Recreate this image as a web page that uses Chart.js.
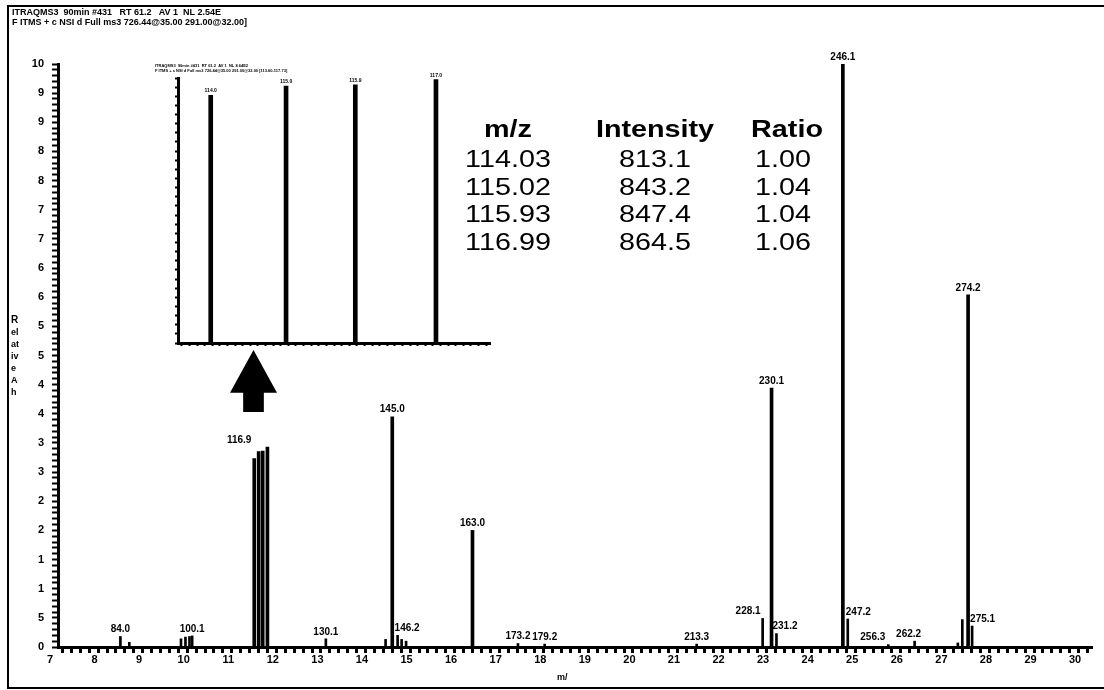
<!DOCTYPE html>
<html>
<head>
<title>ITRAQMS3 spectrum</title>
<script src="https://cdn.jsdelivr.net/npm/chart.js@4.4.0/dist/chart.umd.min.js"></script>
<style>
body { margin:0; background:#fff; font-family:"Liberation Sans", Arial, sans-serif; color:#000; }
#wrap { position:relative; width:1104px; height:690px; overflow:hidden; }
#frame { position:absolute; left:7px; top:5px; width:1096px; height:680px; border:2px solid #000; border-right:none; }
#main { position:absolute; left:0; top:0; }
#inset { position:absolute; left:150px; top:55px; }
.hdr { position:absolute; left:12px; top:7px; font-size:9px; font-weight:bold; line-height:10px; white-space:nowrap; }
.ytitle { position:absolute; left:11px; top:314px; font-size:9px; font-weight:bold; line-height:12px; }
.xtitle { position:absolute; left:557px; top:672px; font-size:9px; font-weight:bold; }
.cell { position:absolute; font-size:23px; white-space:nowrap; transform:translate(-50%,-50%) scaleX(1.25); }
.cell.b { font-weight:bold; }
#arrow { position:absolute; left:230px; top:350px; width:47px; height:62px; background:#000;
  clip-path:polygon(50% 0, 100% 69%, 72% 69%, 72% 100%, 28% 100%, 28% 69%, 0 69%); }
</style>
</head>
<body>
<div id="wrap">
<canvas id="main" width="1104" height="690"></canvas>
<canvas id="inset" width="350" height="305"></canvas>
<div id="frame"></div>
<div class="hdr">ITRAQMS3&nbsp; 90min #431&nbsp;&nbsp; RT 61.2&nbsp;&nbsp; AV 1&nbsp; NL 2.54E<br>F ITMS + c NSI d Full ms3 726.44@35.00 291.00@32.00]</div>
<div class="ytitle"><span style="font-size:10px">R</span><br>el<br>at<br>iv<br>e<br>A<br>h</div>
<div class="xtitle">m/</div>
<div id="arrow"></div>
<div id="table"></div>
</div>
<script>
// main spectrum (m/z, relative abundance %)
var mz =        [84.0, 86.0, 97.6, 98.6, 99.5, 100.1, 114.03, 115.02, 115.93, 116.99, 130.1, 143.5, 145.0, 146.2, 147.1, 148.1, 163.0, 173.2, 179.2, 213.3, 228.1, 230.1, 231.2, 246.1, 247.2, 256.3, 262.2, 271.9, 272.9, 274.2, 275.1];
var abundance = [1.8,  0.8,  1.4,  1.7,  1.8,  1.9,   32.3,   33.5,   33.6,   34.3,   1.4,   1.3,   39.5,  2.0,   1.3,   1.0,   20.0,  0.6,   0.5,   0.5,   4.9,   44.4,  2.3,   100,   4.8,   0.4,   1.0,   0.7,   4.7,   60.4,  3.6];
var peakTags =  ['84.0','', '',  '',   '',   '100.1','',    '',     '',     '116.9','130.1','',  '145.0','146.2','',   '',    '163.0','173.2','179.2','213.3','228.1','230.1','231.2','246.1','247.2','256.3','262.2','', '',  '274.2','275.1'];

var xTickLabels = ['7','8','9','10','11','12','13','14','15','16','17','18','19','20','21','22','23','24','25','26','27','28','29','30'];
var yTickLabels = ['0','5','1','1','2','2','3','3','4','4','5','5','6','6','7','7','8','8','9','9','10'];

// iTRAQ reporter inset + table
var insetMz = [114.03, 115.02, 115.93, 116.99];
var insetIntensity = [813.1, 843.2, 847.4, 864.5];
var insetRatio = ['1.00', '1.04', '1.04', '1.06'];

// table
var tbl = document.getElementById('table');
var colX = [508, 655, 787];
var rowY = [129, 159, 187, 214, 242];
function cell(txt, x, y, bold) {
  var d = document.createElement('div');
  d.className = 'cell' + (bold ? ' b' : '');
  d.style.left = x + 'px';
  d.style.top = y + 'px';
  d.textContent = txt;
  tbl.appendChild(d);
}
cell('m/z', colX[0], rowY[0], true);
cell('Intensity', colX[1], rowY[0], true);
cell('Ratio', colX[2], rowY[0], true);
for (var i = 0; i < insetMz.length; i++) {
  cell(insetMz[i].toFixed(2), colX[0], rowY[i + 1]);
  cell(insetIntensity[i].toFixed(1), colX[1], rowY[i + 1]);
  cell(insetRatio[i], colX[2] - 4, rowY[i + 1]);
}

var big = [], small = [];
for (var i = 0; i < mz.length; i++) {
  (abundance[i] >= 10 ? big : small).push({x: mz[i], y: abundance[i], tag: peakTags[i]});
}

// label nudges where the instrument moved the text off-centre
var tagAlign = {'116.9': ['right', -16], '228.1': ['right', -2], '231.2': ['left', -4], '146.2': ['left', -3],
                '247.2': ['left', -2], '275.1': ['left', -2], '256.3': ['right', -3], '262.2': ['center', -6]};

var peakLabelPlugin = {
  id: 'peakLabels',
  afterDatasetsDraw: function(chart) {
    var c = chart.ctx, xs = chart.scales.x, ys = chart.scales.y;
    c.save();
    c.fillStyle = '#000';
    c.font = 'bold 10px "Liberation Sans", Arial';
    c.textBaseline = 'bottom';
    chart.data.datasets.forEach(function(ds) {
      ds.data.forEach(function(p) {
        if (!p.tag) return;
        var a = tagAlign[p.tag] || ['center', 0];
        c.textAlign = a[0];
        c.fillText(p.tag, xs.getPixelForValue(p.x) + a[1], ys.getPixelForValue(p.y) - 2);
      });
    });
    c.restore();
  }
};

var tickFont = {family: '"Liberation Sans", Arial', weight: 'bold', size: 11};

new Chart(document.getElementById('main'), {
  type: 'bar',
  data: {
    datasets: [
      {data: big, backgroundColor: '#000', barThickness: 3, grouped: false},
      {data: small, backgroundColor: '#000', barThickness: 2, grouped: false}
    ]
  },
  options: {
    responsive: false,
    animation: false,
    layout: {padding: {left: 0, top: 64, right: 12, bottom: 0}},
    plugins: {legend: {display: false}, tooltip: {enabled: false}},
    scales: {
      x: {
        type: 'linear', min: 70, max: 302, offset: false,
        border: {display: true, color: '#000', width: 3},
        grid: {drawOnChartArea: false, tickLength: 6, tickWidth: 3, tickColor: '#000'},
        ticks: {
          stepSize: 2, autoSkip: false, maxRotation: 0, labelOffset: -8, padding: 0,
          color: '#000', font: tickFont,
          callback: function(v) { return v % 10 === 0 ? xTickLabels[(v - 70) / 10] : ''; }
        },
        afterFit: function(s) { s.height = 43; }
      },
      y: {
        min: 0, max: 100,
        border: {display: true, color: '#000', width: 3},
        grid: {drawOnChartArea: false, tickLength: 6, tickWidth: 2, tickColor: '#000'},
        ticks: {
          stepSize: 1, autoSkip: false, padding: 8,
          color: '#000', font: tickFont,
          callback: function(v) { return v % 5 === 0 ? yTickLabels[v / 5] : ''; }
        },
        afterFit: function(s) { s.width = 58; }
      }
    }
  },
  plugins: [peakLabelPlugin]
});

// inset: zoom on reporter ions
var insetLabelPlugin = {
  id: 'insetLabels',
  afterDatasetsDraw: function(chart) {
    var c = chart.ctx, xs = chart.scales.x, ys = chart.scales.y;
    c.save();
    c.fillStyle = '#000';
    c.font = 'bold 5px "Liberation Sans", Arial';
    c.textAlign = 'center';
    c.textBaseline = 'bottom';
    chart.data.datasets[0].data.forEach(function(p) {
      c.fillText(p.x.toFixed(1), xs.getPixelForValue(p.x), ys.getPixelForValue(p.y) - 2);
    });
    c.textAlign = 'left';
    c.textBaseline = 'top';
    c.font = 'bold 4px "Liberation Sans", Arial';
    c.fillText('ITRAQMS3  90min #431  RT 61.2  AV 1  NL 8.64E2', 5, 9);
    c.fillText('F ITMS + c NSI d Full ms3 726.44@35.00 291.00@32.00 [113.60-117.73]', 5, 14);
    c.restore();
  }
};

new Chart(document.getElementById('inset'), {
  type: 'bar',
  data: {
    datasets: [{
      data: insetMz.map(function(m, i) { return {x: m, y: insetIntensity[i]}; }),
      backgroundColor: '#000', barThickness: 4
    }]
  },
  options: {
    responsive: false,
    animation: false,
    layout: {padding: {left: 0, top: 23, right: 10, bottom: 0}},
    plugins: {legend: {display: false}, tooltip: {enabled: false}},
    scales: {
      x: {
        type: 'linear', min: 113.6, max: 117.7, offset: false,
        border: {display: true, color: '#000', width: 3},
        grid: {drawOnChartArea: false, tickLength: 3, tickWidth: 2, tickColor: '#000'},
        ticks: {stepSize: 0.1, autoSkip: false, display: false},
        afterFit: function(s) { s.height = 17; }
      },
      y: {
        min: 0, max: 870,
        border: {display: true, color: '#000', width: 3},
        grid: {drawOnChartArea: false, tickLength: 3, tickWidth: 2, tickColor: '#000'},
        ticks: {stepSize: 30, autoSkip: false, display: false},
        afterFit: function(s) { s.width = 28; }
      }
    }
  },
  plugins: [insetLabelPlugin]
});
</script>
</body>
</html>
